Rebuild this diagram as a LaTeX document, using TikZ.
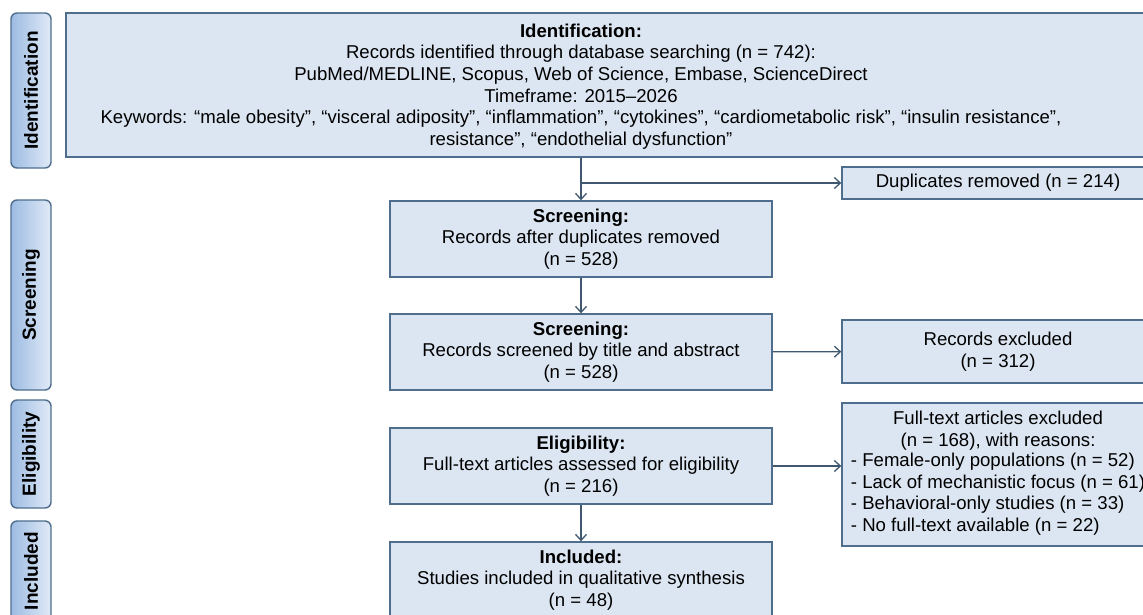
\documentclass[tikz,border=0pt]{standalone}
\usepackage{fontspec}
\setmainfont{Liberation Sans}
\usetikzlibrary{arrows.meta,positioning}
\definecolor{boxfill}{HTML}{DCE6F2}
\definecolor{boxline}{HTML}{4F6E8E}
\definecolor{tabdark}{HTML}{9DBCE3}
\definecolor{tablight}{HTML}{E0EAF7}
\definecolor{arrowcol}{HTML}{3F5870}
\begin{document}
\begin{tikzpicture}[x=1pt,y=-1pt,
    every node/.style={font=\fontsize{18.6}{21.7}\selectfont, inner sep=0pt},
    flowbox/.style={draw=boxline, fill=boxfill, line width=1.4pt, align=center,
      minimum width=382pt, minimum height=76pt},
    sidebox/.style={flowbox, minimum width=312pt},
    phasetab/.style={draw=boxline, left color=tabdark, right color=tablight,
      rounded corners=6pt, line width=1.4pt, minimum width=40pt},
    tabtext/.style={rotate=90, font=\fontsize{19}{22}\selectfont\bfseries},
    flow/.style={draw=arrowcol, line width=1.3pt, -{Straight Barb[length=6pt,width=11pt]}}]
  \useasboundingbox (0,0) rectangle (1143,614);
  \clip (0,0) rectangle (1143,614);
  \fill[white] (0,0) rectangle (1143,614);

  % phase tabs on the left
  \node[phasetab, minimum height=155pt, label={[tabtext]center:Identification}] (tabid) at (31,90.5) {};
  \node[phasetab, minimum height=190pt, label={[tabtext]center:Screening}] (tabscr) at (31,295) {};
  \node[phasetab, minimum height=108pt, label={[tabtext]center:Eligibility}] (tabelig) at (31,454) {};
  \node[phasetab, minimum height=100pt, label={[tabtext]center:Included}] (tabincl) at (31,571) {};

  % identification
  \node[flowbox, minimum width=1100pt, minimum height=144pt] (ident) at (616,85) {};
  \node[align=center] (identtxt) at (581,86.5) {\textbf{Identification:}\\
    Records identified through database searching (n = 742):\\
    PubMed/MEDLINE, Scopus, Web of Science, Embase, ScienceDirect\\
    Timeframe: 2015–2026\\
    Keywords: “male obesity”, “visceral adiposity”, “inflammation”, “cytokines”, “cardiometabolic risk”, “insulin resistance”,\\
    resistance”, “endothelial dysfunction”};

  % main column
  \node[flowbox] (scr1) at (581,239) {\textbf{Screening:}\\Records after duplicates removed\\(n = 528)};
  \node[flowbox] (scr2) at (581,352) {\textbf{Screening:}\\Records screened by title and abstract\\(n = 528)};
  \node[flowbox] (elig) at (581,466) {\textbf{Eligibility:}\\Full-text articles assessed for eligibility\\(n = 216)};
  \node[flowbox] (incl) at (581,580) {\textbf{Included:}\\Studies included in qualitative synthesis\\(n = 48)};

  % exclusions
  \node[sidebox, minimum height=32pt] (dup) at (998,183) {Duplicates removed (n = 214)};
  \node[sidebox, minimum height=63pt] (rexcl) at (998,351.5) {Records excluded\\(n = 312)};
  \node[sidebox, minimum height=143pt] (ftx) at (998,474.5) {Full-text articles excluded\\(n = 168), with reasons:\\
    \begin{tabular}{@{}l@{}}
    - Female-only populations (n = 52)\\
    - Lack of mechanistic focus (n = 61)\\
    - Behavioral-only studies (n = 33)\\
    - No full-text available (n = 22)
    \end{tabular}};

  \draw[flow] (scr1.north |- ident.south) -- (scr1.north);
  \draw[flow] (scr1.north |- dup.west) -- (dup.west);
  \draw[flow] (scr1) -- (scr2);
  \draw[flow] (scr2) -- (rexcl);
  \draw[flow] (elig.east) -- (elig.east -| ftx.west);
  \draw[flow] (elig) -- (incl);
\end{tikzpicture}
\end{document}
